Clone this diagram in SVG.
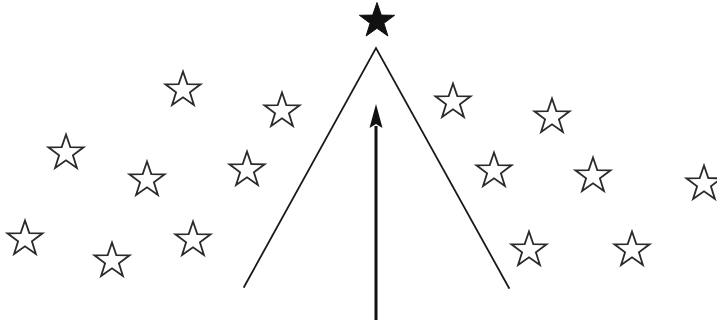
<svg xmlns="http://www.w3.org/2000/svg" xmlns:xlink="http://www.w3.org/1999/xlink" width="717" height="320" viewBox="0 0 717 320">
<style>
.star{fill:#fff;stroke:#2a2a2a;stroke-width:1.8;stroke-linejoin:miter}
.lead{fill:#111;stroke:#111;stroke-width:1}
.line{stroke:#1a1a1a;stroke-width:1.8;fill:none;stroke-linecap:round}
.arrow{stroke:#111;stroke-width:3;fill:none}
</style>
<defs>
<path id="s" d="M0,-18.5 L4.3,-5.9 L17.6,-5.7 L6.9,2.3 L10.9,15 L0,7.3 L-10.9,15 L-6.9,2.3 L-17.6,-5.7 L-4.3,-5.9 Z"/>
</defs>
<rect width="717" height="320" fill="#fff"/>
<g id="connectors">
<polyline class="line" points="244,287 376,48 509,288"/>
<line class="arrow" x1="376" y1="320" x2="376" y2="126"/>
<polygon points="376,104 369.5,128 376,124 382.5,128" fill="#111"/>
</g>
<g id="lead-star"><use xlink:href="#s" class="lead" transform="translate(377,21)"/></g>
<g id="star1"><use xlink:href="#s" class="star" transform="translate(183,90)"/></g>
<g id="star2"><use xlink:href="#s" class="star" transform="translate(282,111)"/></g>
<g id="star3"><use xlink:href="#s" class="star" transform="translate(66,153)"/></g>
<g id="star4"><use xlink:href="#s" class="star" transform="translate(147,180)"/></g>
<g id="star5"><use xlink:href="#s" class="star" transform="translate(247,170)"/></g>
<g id="star6"><use xlink:href="#s" class="star" transform="translate(25,239)"/></g>
<g id="star7"><use xlink:href="#s" class="star" transform="translate(112,261)"/></g>
<g id="star8"><use xlink:href="#s" class="star" transform="translate(193,240)"/></g>
<g id="star9"><use xlink:href="#s" class="star" transform="translate(453,102)"/></g>
<g id="star10"><use xlink:href="#s" class="star" transform="translate(552,117)"/></g>
<g id="star11"><use xlink:href="#s" class="star" transform="translate(494,171)"/></g>
<g id="star12"><use xlink:href="#s" class="star" transform="translate(593,176)"/></g>
<g id="star13"><use xlink:href="#s" class="star" transform="translate(704,184)"/></g>
<g id="star14"><use xlink:href="#s" class="star" transform="translate(529,250)"/></g>
<g id="star15"><use xlink:href="#s" class="star" transform="translate(632,250)"/></g>
</svg>
